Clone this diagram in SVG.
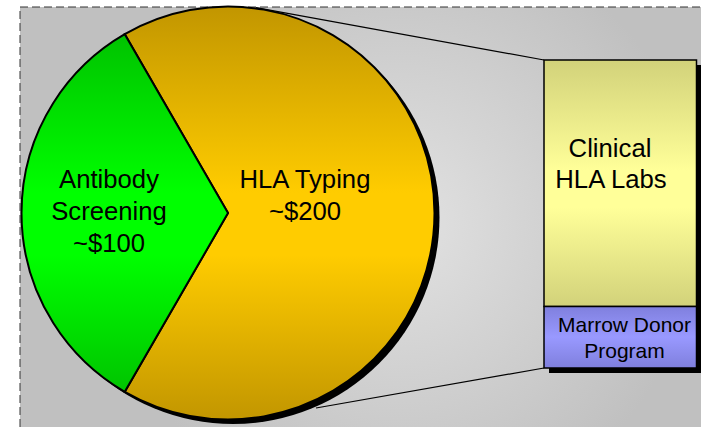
<svg xmlns="http://www.w3.org/2000/svg" width="701" height="427" viewBox="0 0 701 427">
  <defs>
    <radialGradient id="bgGrad" gradientUnits="userSpaceOnUse" cx="400" cy="225" r="300">
      <stop offset="0" stop-color="#e2e2e2"/>
      <stop offset="1" stop-color="#c0c0c0"/>
    </radialGradient>
    <linearGradient id="goldGrad" gradientUnits="userSpaceOnUse" x1="0" y1="7" x2="0" y2="420">
      <stop offset="0" stop-color="#c29600"/>
      <stop offset="0.45" stop-color="#ffcc00"/>
      <stop offset="0.6" stop-color="#ffcc00"/>
      <stop offset="1" stop-color="#c29600"/>
    </linearGradient>
    <linearGradient id="greenGrad" gradientUnits="userSpaceOnUse" x1="0" y1="7" x2="0" y2="420">
      <stop offset="0" stop-color="#00b800"/>
      <stop offset="0.45" stop-color="#00ff00"/>
      <stop offset="0.6" stop-color="#00ff00"/>
      <stop offset="1" stop-color="#00b800"/>
    </linearGradient>
    <linearGradient id="labGrad" gradientUnits="userSpaceOnUse" x1="0" y1="60" x2="0" y2="306">
      <stop offset="0" stop-color="#d2d27a"/>
      <stop offset="0.45" stop-color="#ffff99"/>
      <stop offset="0.6" stop-color="#ffff99"/>
      <stop offset="1" stop-color="#d2d27a"/>
    </linearGradient>
    <linearGradient id="nmdpGrad" gradientUnits="userSpaceOnUse" x1="0" y1="306" x2="0" y2="368">
      <stop offset="0" stop-color="#7f7fdd"/>
      <stop offset="0.5" stop-color="#9999ff"/>
      <stop offset="1" stop-color="#7f7fdd"/>
    </linearGradient>
    <style>
      .label { font-family: "Liberation Sans", Arial, sans-serif; font-size: 25.7px; fill: #000; text-anchor: middle; }
      .small { font-size: 21px; }
      .slice { stroke: #000; stroke-width: 2; }
      .box { stroke: #000; stroke-width: 1.5; }
      .link { stroke: #000; stroke-width: 1.2; fill: none; }
      .shade { fill: #000; }
    </style>
  </defs>

  <!-- backdrop panel with dashed frame (right and bottom edges run off the canvas) -->
  <g id="backdrop">
    <rect x="20" y="7" width="700" height="440" fill="url(#bgGrad)" stroke="#333" stroke-width="1" stroke-dasharray="8,4"/>
  </g>

  <!-- lines projecting the pie onto the breakdown bar -->
  <g id="connectors">
    <line class="link" x1="256" y1="7.6" x2="544" y2="60"/>
    <line class="link" x1="316" y1="408" x2="544" y2="368"/>
  </g>

  <!-- pie drop shadow, offset down and to the right -->
  <g id="pie-shadow">
    <circle class="shade" cx="233" cy="217.5" r="206.5"/>
  </g>

  <g id="hla-typing">
    <path class="slice" fill="url(#goldGrad)" d="M228,213 L124.75,391.83 A206.5,206.5 0 1 0 124.75,34.17 Z"/>
    <text class="label" x="305" y="188">HLA Typing</text>
    <text class="label" x="305" y="220">~$200</text>
  </g>

  <g id="antibody-screening">
    <path class="slice" fill="url(#greenGrad)" d="M228,213 L124.75,34.17 A206.5,206.5 0 0 0 124.75,391.83 Z"/>
    <text class="label" x="109" y="188">Antibody</text>
    <text class="label" x="109" y="220">Screening</text>
    <text class="label" x="109" y="252">~$100</text>
  </g>

  <!-- stacked bar drop shadow -->
  <g id="bar-shadow">
    <rect class="shade" x="549" y="65" width="155" height="308"/>
  </g>

  <g id="clinical-labs">
    <rect class="box" x="544" y="60" width="152.5" height="246.5" fill="url(#labGrad)"/>
    <text class="label" x="610" y="157">Clinical</text>
    <text class="label" x="611" y="188">HLA Labs</text>
  </g>

  <g id="marrow-donor">
    <rect class="box" x="544" y="306.5" width="152.5" height="61.5" fill="url(#nmdpGrad)"/>
    <text class="label small" x="624.5" y="332">Marrow Donor</text>
    <text class="label small" x="624.5" y="358">Program</text>
  </g>
</svg>
